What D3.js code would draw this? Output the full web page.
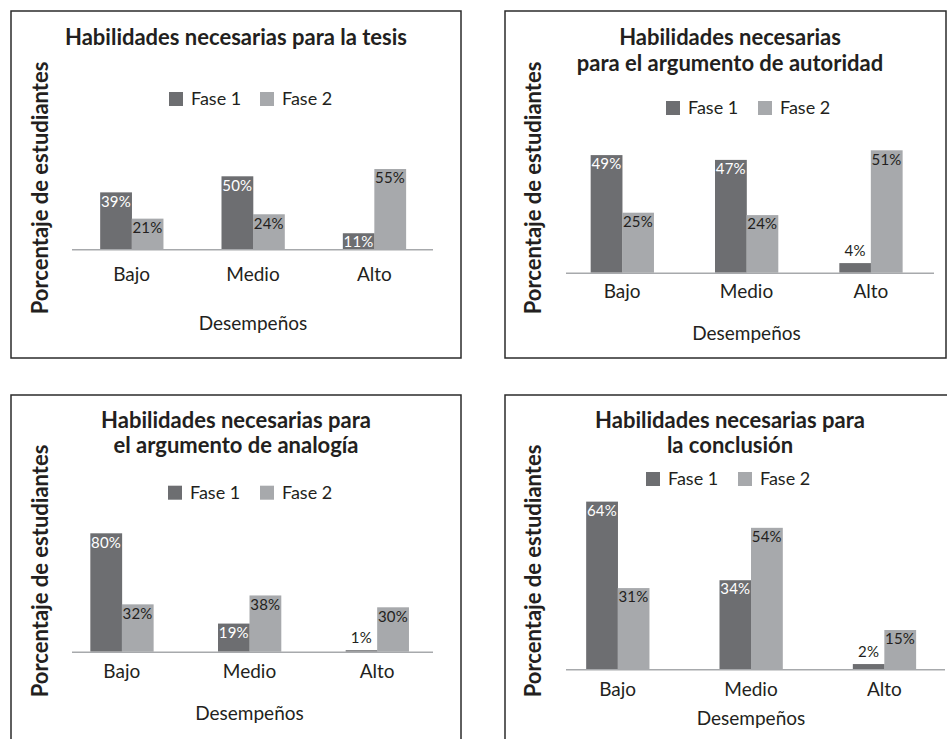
<!DOCTYPE html>
<html>
<head>
<meta charset="utf-8">
<script src="https://cdn.jsdelivr.net/npm/d3@7"></script>
<style>
  body { margin: 0; background: #fff; }
  svg { display: block; font-family: Lato, "Open Sans", sans-serif; }
</style>
</head>
<body>
<svg id="chart" width="947" height="739"></svg>
<script>
// data
var categories = ["Bajo", "Medio", "Alto"];
var seriesNames = ["Fase 1", "Fase 2"];

var tesisF1 = [39, 50, 11];
var tesisF2 = [21, 24, 55];
var autoridadF1 = [49, 47, 4];
var autoridadF2 = [25, 24, 51];
var analogiaF1 = [80, 19, 1];
var analogiaF2 = [32, 38, 30];
var conclusionF1 = [64, 34, 2];
var conclusionF2 = [31, 54, 15];

var titleTesis = ["Habilidades necesarias para la tesis"];
var titleAutoridad = ["Habilidades necesarias", "para el argumento de autoridad"];
var titleAnalogia = ["Habilidades necesarias para", "el argumento de analogía"];
var titleConclusion = ["Habilidades necesarias para", "la conclusión"];

var yTitle = "Porcentaje de estudiantes";
var xTitle = "Desempeños";

// layout of the four panels
var panels = [
  { f1: tesisF1, f2: tesisF2, title: titleTesis,
    box: [11, 11, 450, 347], base: 249.3, axis: [72, 433], range: [71, 435], k: 1.46,
    titleX: 236, titleY: [37], legY: 99, legX: [169, 260], catY: 274, xtY: 323, ylX: 40, ylY: 188 },
  { f1: autoridadF1, f2: autoridadF2, title: titleAutoridad,
    box: [505, 11, 441, 347], base: 272.7, axis: [566, 934], range: [560, 933], k: 2.4,
    titleX: 730, titleY: [37, 63], legY: 108, legX: [666, 758], catY: 291.7, xtY: 333, ylX: 533, ylY: 188 },
  { f1: analogiaF1, f2: analogiaF2, title: titleAnalogia,
    box: [11, 395, 450, 360], base: 651.7, axis: [72, 433], range: [58, 441], k: 1.48,
    titleX: 236, titleY: [420, 445], legY: 492.7, legX: [168, 260], catY: 671.7, xtY: 713, ylX: 40, ylY: 571 },
  { f1: conclusionF1, f2: conclusionF2, title: titleConclusion,
    box: [505, 395, 460, 360], base: 669.3, axis: [566, 945], range: [551, 951], k: 2.62,
    titleX: 730, titleY: [420, 445], legY: 479, legX: [646, 738], catY: 689.3, xtY: 718.3, ylX: 533, ylY: 571 }
];

var colors = ["#6d6e71", "#a7a9ac"];
var ink = "#231f20";
var barW = 31.5;

var svg = d3.select("#chart");

panels.forEach(function(p) {
  var g = svg.append("g");

  g.append("rect")
    .attr("x", p.box[0]).attr("y", p.box[1])
    .attr("width", p.box[2]).attr("height", p.box[3])
    .attr("fill", "none").attr("stroke", "#2b2b2b").attr("stroke-width", 1.5);

  var x = d3.scalePoint().domain(categories).range(p.range).padding(0.5);
  var y = d3.scaleLinear().domain([0, 100]).range([p.base, p.base - 100 * p.k]);

  // title
  p.title.forEach(function(line, i) {
    g.append("text")
      .attr("x", p.titleX).attr("y", p.titleY[i])
      .attr("dy", "0.35em").attr("text-anchor", "middle")
      .attr("font-weight", "bold").attr("font-size", 22).attr("fill", ink)
      .text(line);
  });

  // legend
  seriesNames.forEach(function(s, i) {
    g.append("rect")
      .attr("x", p.legX[i]).attr("y", p.legY - 7)
      .attr("width", 14).attr("height", 14).attr("fill", colors[i]);
    g.append("text")
      .attr("x", p.legX[i] + 22).attr("y", p.legY)
      .attr("dy", "0.35em").attr("font-size", 18).attr("fill", ink)
      .text(s);
  });

  // bars
  var rows = [];
  categories.forEach(function(c, ci) {
    [p.f1, p.f2].forEach(function(arr, si) {
      rows.push({ cat: c, s: si, v: arr[ci] });
    });
  });

  g.selectAll(".bar").data(rows).enter().append("rect")
    .attr("x", function(d) { return x(d.cat) - barW + d.s * barW; })
    .attr("y", function(d) { return y(d.v); })
    .attr("width", barW + 0.3)
    .attr("height", function(d) { return y(0) - y(d.v); })
    .attr("fill", function(d) { return colors[d.s]; });

  g.selectAll(".lbl").data(rows).enter().append("text")
    .attr("x", function(d) { return x(d.cat) - barW / 2 + d.s * barW; })
    .attr("y", function(d) {
      var h = y(0) - y(d.v);
      return h < 12 ? y(d.v) - 12 : y(d.v) + 9;
    })
    .attr("dy", "0.35em").attr("text-anchor", "middle")
    .attr("font-size", 15).attr("letter-spacing", 0.2)
    .attr("fill", function(d) {
      var h = y(0) - y(d.v);
      if (h < 12) return ink;
      return d.s === 0 ? "#ffffff" : ink;
    })
    .text(function(d) { return d.v + "%"; });

  // axis line + category labels
  g.append("line")
    .attr("x1", p.axis[0]).attr("x2", p.axis[1])
    .attr("y1", p.base + 0.5).attr("y2", p.base + 0.5)
    .attr("stroke", "#a7a9ac").attr("stroke-width", 1.5);

  g.selectAll(".cat").data(categories).enter().append("text")
    .attr("x", function(d) { return x(d); }).attr("y", p.catY)
    .attr("dy", "0.35em").attr("text-anchor", "middle")
    .attr("font-size", 19).attr("fill", ink)
    .text(function(d) { return d; });

  g.append("text")
    .attr("x", x("Medio")).attr("y", p.xtY)
    .attr("dy", "0.35em").attr("text-anchor", "middle")
    .attr("font-size", 19).attr("fill", ink)
    .text(xTitle);

  g.append("text")
    .attr("transform", "translate(" + p.ylX + "," + p.ylY + ") rotate(-90)")
    .attr("dy", "0.35em").attr("text-anchor", "middle")
    .attr("font-weight", "bold").attr("font-size", 22).attr("fill", ink)
    .text(yTitle);
});
</script>
</body>
</html>
